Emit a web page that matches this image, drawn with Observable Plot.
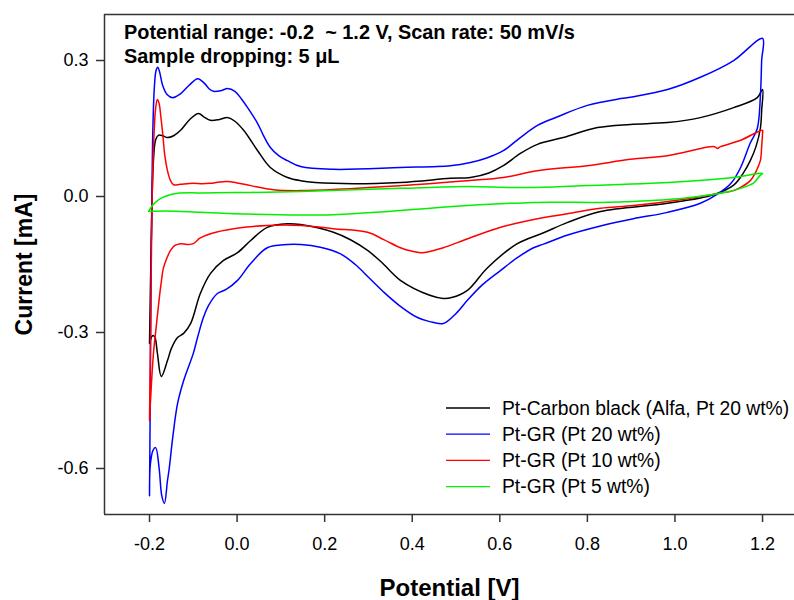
<!DOCTYPE html>
<html><head><meta charset="utf-8">
<script src="https://cdn.jsdelivr.net/npm/d3@7"></script>
<script src="https://cdn.jsdelivr.net/npm/@observablehq/plot@0.6"></script>
<style>
body{margin:0;background:#fff}
#wrap{position:relative;width:794px;height:600px;font-family:"Liberation Sans",Arial,sans-serif}
#wrap svg.over{position:absolute;left:0;top:0;pointer-events:none}
</style>
</head><body><div id="wrap"></div>
<script>
// ---- data: [potential V, current mA], forward sweep then reverse sweep ----
const seriesNames = ["Pt-Carbon black (Alfa, Pt 20 wt%)", "Pt-GR (Pt 20 wt%)", "Pt-GR (Pt 10 wt%)", "Pt-GR (Pt 5 wt%)"];
const seriesColors = ["#000000", "#0000ff", "#ff0000", "#00f000"];

const ptCarbonBlack = [
  [-0.200,-0.324],[-0.196,-0.10],[-0.191,0.08],[-0.186,0.125],[-0.180,0.135],[-0.170,0.134],[-0.159,0.130],[-0.145,0.134],
  [-0.129,0.146],[-0.108,0.170],[-0.088,0.183],[-0.075,0.175],[-0.061,0.168],[-0.040,0.170],[-0.022,0.174],[-0.005,0.166],
  [0.015,0.146],[0.047,0.101],[0.076,0.064],[0.115,0.042],[0.145,0.035],[0.220,0.029],[0.373,0.031],[0.487,0.040],
  [0.533,0.042],[0.575,0.052],[0.608,0.068],[0.647,0.095],[0.686,0.115],[0.745,0.130],[0.823,0.152],[0.898,0.159],
  [0.983,0.163],[1.058,0.174],[1.134,0.196],[1.188,0.218],[1.200,0.236],
  [1.198,0.190],[1.195,0.150],[1.185,0.110],[1.172,0.079],[1.155,0.050],[1.134,0.025],[1.088,0.004],[0.983,-0.015],
  [0.830,-0.033],[0.755,-0.057],[0.700,-0.080],[0.640,-0.104],[0.572,-0.157],[0.526,-0.207],[0.490,-0.223],[0.471,-0.225],
  [0.440,-0.218],[0.373,-0.185],[0.330,-0.145],[0.298,-0.119],[0.260,-0.096],[0.220,-0.079],[0.145,-0.062],[0.115,-0.060],
  [0.069,-0.068],[0.031,-0.097],[0.001,-0.124],[-0.031,-0.141],[-0.061,-0.170],[-0.084,-0.214],[-0.106,-0.280],
  [-0.122,-0.302],[-0.136,-0.311],[-0.150,-0.335],[-0.159,-0.362],[-0.173,-0.397],[-0.182,-0.346],[-0.188,-0.310],
  [-0.193,-0.307],[-0.200,-0.324]
];

const ptGR20 = [
  [-0.200,-0.660],[-0.198,-0.40],[-0.196,-0.10],[-0.193,0.12],[-0.189,0.24],[-0.185,0.278],[-0.181,0.285],[-0.177,0.275],
  [-0.170,0.245],[-0.160,0.225],[-0.147,0.218],[-0.130,0.226],[-0.110,0.245],[-0.090,0.260],[-0.075,0.250],[-0.062,0.236],
  [-0.054,0.232],[-0.035,0.234],[-0.022,0.238],[-0.005,0.232],[0.010,0.215],[0.024,0.196],[0.047,0.161],[0.060,0.135],
  [0.076,0.108],[0.095,0.090],[0.115,0.079],[0.145,0.066],[0.220,0.060],[0.373,0.064],[0.487,0.068],[0.533,0.075],
  [0.570,0.085],[0.608,0.101],[0.647,0.130],[0.686,0.157],[0.732,0.176],[0.800,0.201],[0.876,0.216],[0.905,0.220],
  [0.983,0.236],[1.058,0.263],[1.134,0.300],[1.200,0.349],
  [1.198,0.30],[1.195,0.22],[1.188,0.150],[1.172,0.118],[1.150,0.064],[1.128,0.029],[1.097,0.005],[1.058,-0.015],
  [0.983,-0.035],[0.905,-0.049],[0.830,-0.065],[0.755,-0.085],[0.700,-0.105],[0.677,-0.113],[0.640,-0.135],[0.602,-0.163],
  [0.560,-0.195],[0.526,-0.229],[0.500,-0.258],[0.471,-0.280],[0.440,-0.276],[0.412,-0.267],[0.370,-0.240],[0.334,-0.210],
  [0.300,-0.178],[0.270,-0.150],[0.235,-0.126],[0.190,-0.112],[0.145,-0.106],[0.115,-0.106],[0.069,-0.113],[0.031,-0.148],
  [0.001,-0.185],[-0.025,-0.205],[-0.045,-0.214],[-0.065,-0.240],[-0.077,-0.267],[-0.090,-0.310],[-0.100,-0.346],
  [-0.122,-0.406],[-0.136,-0.457],[-0.147,-0.532],[-0.155,-0.600],[-0.159,-0.627],[-0.166,-0.677],[-0.172,-0.660],
  [-0.178,-0.600],[-0.186,-0.554],[-0.192,-0.560],[-0.198,-0.590],[-0.200,-0.660]
];

const ptGR10 = [
  [-0.200,-0.494],[-0.197,-0.25],[-0.194,0.0],[-0.190,0.13],[-0.186,0.195],[-0.182,0.214],[-0.178,0.205],[-0.174,0.175],
  [-0.170,0.140],[-0.165,0.090],[-0.159,0.057],[-0.152,0.035],[-0.145,0.026],[-0.130,0.027],[-0.100,0.029],[-0.080,0.028],
  [-0.061,0.029],[-0.040,0.032],[-0.022,0.033],[0.000,0.030],[0.031,0.024],[0.083,0.015],[0.145,0.013],[0.373,0.024],
  [0.526,0.035],[0.608,0.042],[0.686,0.057],[0.800,0.068],[0.898,0.082],[0.983,0.090],[1.090,0.110],[1.097,0.106],
  [1.104,0.110],[1.150,0.124],[1.200,0.146],
  [1.200,0.140],[1.198,0.110],[1.195,0.079],[1.185,0.055],[1.172,0.035],[1.150,0.020],[1.134,0.013],[1.088,0.005],
  [1.013,-0.007],[0.905,-0.020],[0.830,-0.026],[0.755,-0.038],[0.680,-0.050],[0.602,-0.068],[0.530,-0.092],[0.471,-0.113],
  [0.445,-0.120],[0.419,-0.124],[0.400,-0.121],[0.373,-0.113],[0.335,-0.095],[0.298,-0.079],[0.220,-0.071],[0.145,-0.064],
  [0.069,-0.064],[-0.008,-0.071],[-0.061,-0.082],[-0.085,-0.092],[-0.100,-0.104],[-0.115,-0.106],[-0.129,-0.104],
  [-0.142,-0.108],[-0.152,-0.119],[-0.160,-0.135],[-0.168,-0.157],[-0.174,-0.195],[-0.179,-0.236],[-0.185,-0.290],
  [-0.191,-0.346],[-0.196,-0.420],[-0.200,-0.494]
];

const ptGR5 = [
  [-0.202,-0.033],[-0.195,-0.022],[-0.182,-0.009],[-0.165,0.000],[-0.136,0.007],[-0.084,0.008],[0.031,0.009],[0.145,0.011],
  [0.373,0.018],[0.526,0.022],[0.620,0.020],[0.677,0.020],[0.800,0.024],[0.944,0.029],[1.134,0.042],[1.200,0.051],
  [1.193,0.045],[1.180,0.030],[1.150,0.018],[1.104,0.007],[1.019,-0.004],[0.905,-0.011],[0.830,-0.013],[0.677,-0.013],
  [0.526,-0.020],[0.373,-0.031],[0.220,-0.040],[0.145,-0.041],[-0.008,-0.038],[-0.084,-0.035],[-0.159,-0.032],[-0.202,-0.033]
];

const xTicks = [-0.2, 0.0, 0.2, 0.4, 0.6, 0.8, 1.0, 1.2];
const yTicks = [-0.6, -0.3, 0.0, 0.3];
const xDomain = [-0.3028, 1.273];
const yDomain = [-0.7015, 0.4015];
const xTitle = "Potential [V]";
const yTitle = "Current [mA]";
const noteLines = ["Potential range: -0.2  ~ 1.2 V, Scan rate: 50 mV/s", "Sample dropping: 5 \u03bcL"];

// ---- build table ----
const allSeries = [ptCarbonBlack, ptGR20, ptGR10, ptGR5];
const rows = allSeries.flatMap((s, k) => s.map(([V, I], i) => ({name: seriesNames[k], V, I, i})));

const FONT = '"Liberation Sans", Arial, sans-serif';
const chart = Plot.plot({
  width: 794, height: 600,
  marginLeft: 104, marginRight: 0, marginTop: 14, marginBottom: 86,
  style: {fontFamily: FONT, fontSize: "18px", color: "#000", background: "#fff", overflow: "visible"},
  x: {domain: xDomain},
  y: {domain: yDomain},
  color: {domain: seriesNames, range: seriesColors},
  marks: [
    Plot.line(rows, {x: "V", y: "I", z: "name", stroke: "name", strokeWidth: 1.5, curve: "catmull-rom"}),
    Plot.ruleX([xDomain[0]], {stroke: "#333", strokeWidth: 1.5}),
    Plot.ruleY([yDomain[1]], {stroke: "#333", strokeWidth: 1.5}),
    Plot.ruleY([yDomain[0]], {stroke: "#333", strokeWidth: 1.5}),
    Plot.axisX({ticks: xTicks, tickFormat: d => d.toFixed(1), tickSize: 8, tickPadding: 15, label: null, stroke: "#333", strokeWidth: 1.5, fontSize: 18}),
    Plot.axisY({ticks: yTicks, tickFormat: d => d.toFixed(1), tickSize: 8, tickPadding: 8, label: null, stroke: "#333", strokeWidth: 1.5, fontSize: 18}),
    Plot.text([xTitle], {text: d => d, frameAnchor: "bottom", textAnchor: "middle", lineAnchor: "middle", dy: 74, fontWeight: "bold", fontSize: 24}),
    Plot.text([yTitle], {text: d => d, frameAnchor: "left", textAnchor: "middle", lineAnchor: "middle", rotate: -90, dx: -80, fontWeight: "bold", fontSize: 23})
  ]
});
const wrap = document.getElementById("wrap");
wrap.appendChild(chart);

// ---- overlay: annotation + legend ----
const over = d3.select(wrap).append("svg").attr("class", "over")
  .attr("width", 794).attr("height", 600).style("font-family", FONT);
over.selectAll("text.note").data(noteLines).join("text")
  .attr("class", "note").attr("x", 124).attr("y", (d, i) => 39 + i * 24)
  .attr("font-size", 19.9).attr("font-weight", "bold").attr("fill", "#000")
  .style("white-space", "pre").text(d => d);
const leg = over.selectAll("g.leg").data(seriesNames).join("g")
  .attr("class", "leg").attr("transform", (d, i) => `translate(0,${408 + i * 26.2})`);
leg.append("line").attr("x1", 446).attr("x2", 490).attr("y1", 0).attr("y2", 0)
  .attr("stroke", (d, i) => seriesColors[i]).attr("stroke-width", 1.3);
leg.append("text").attr("x", 502).attr("y", 6.5).attr("font-size", 19.3).attr("fill", "#000").text(d => d);
</script>
</body></html>
